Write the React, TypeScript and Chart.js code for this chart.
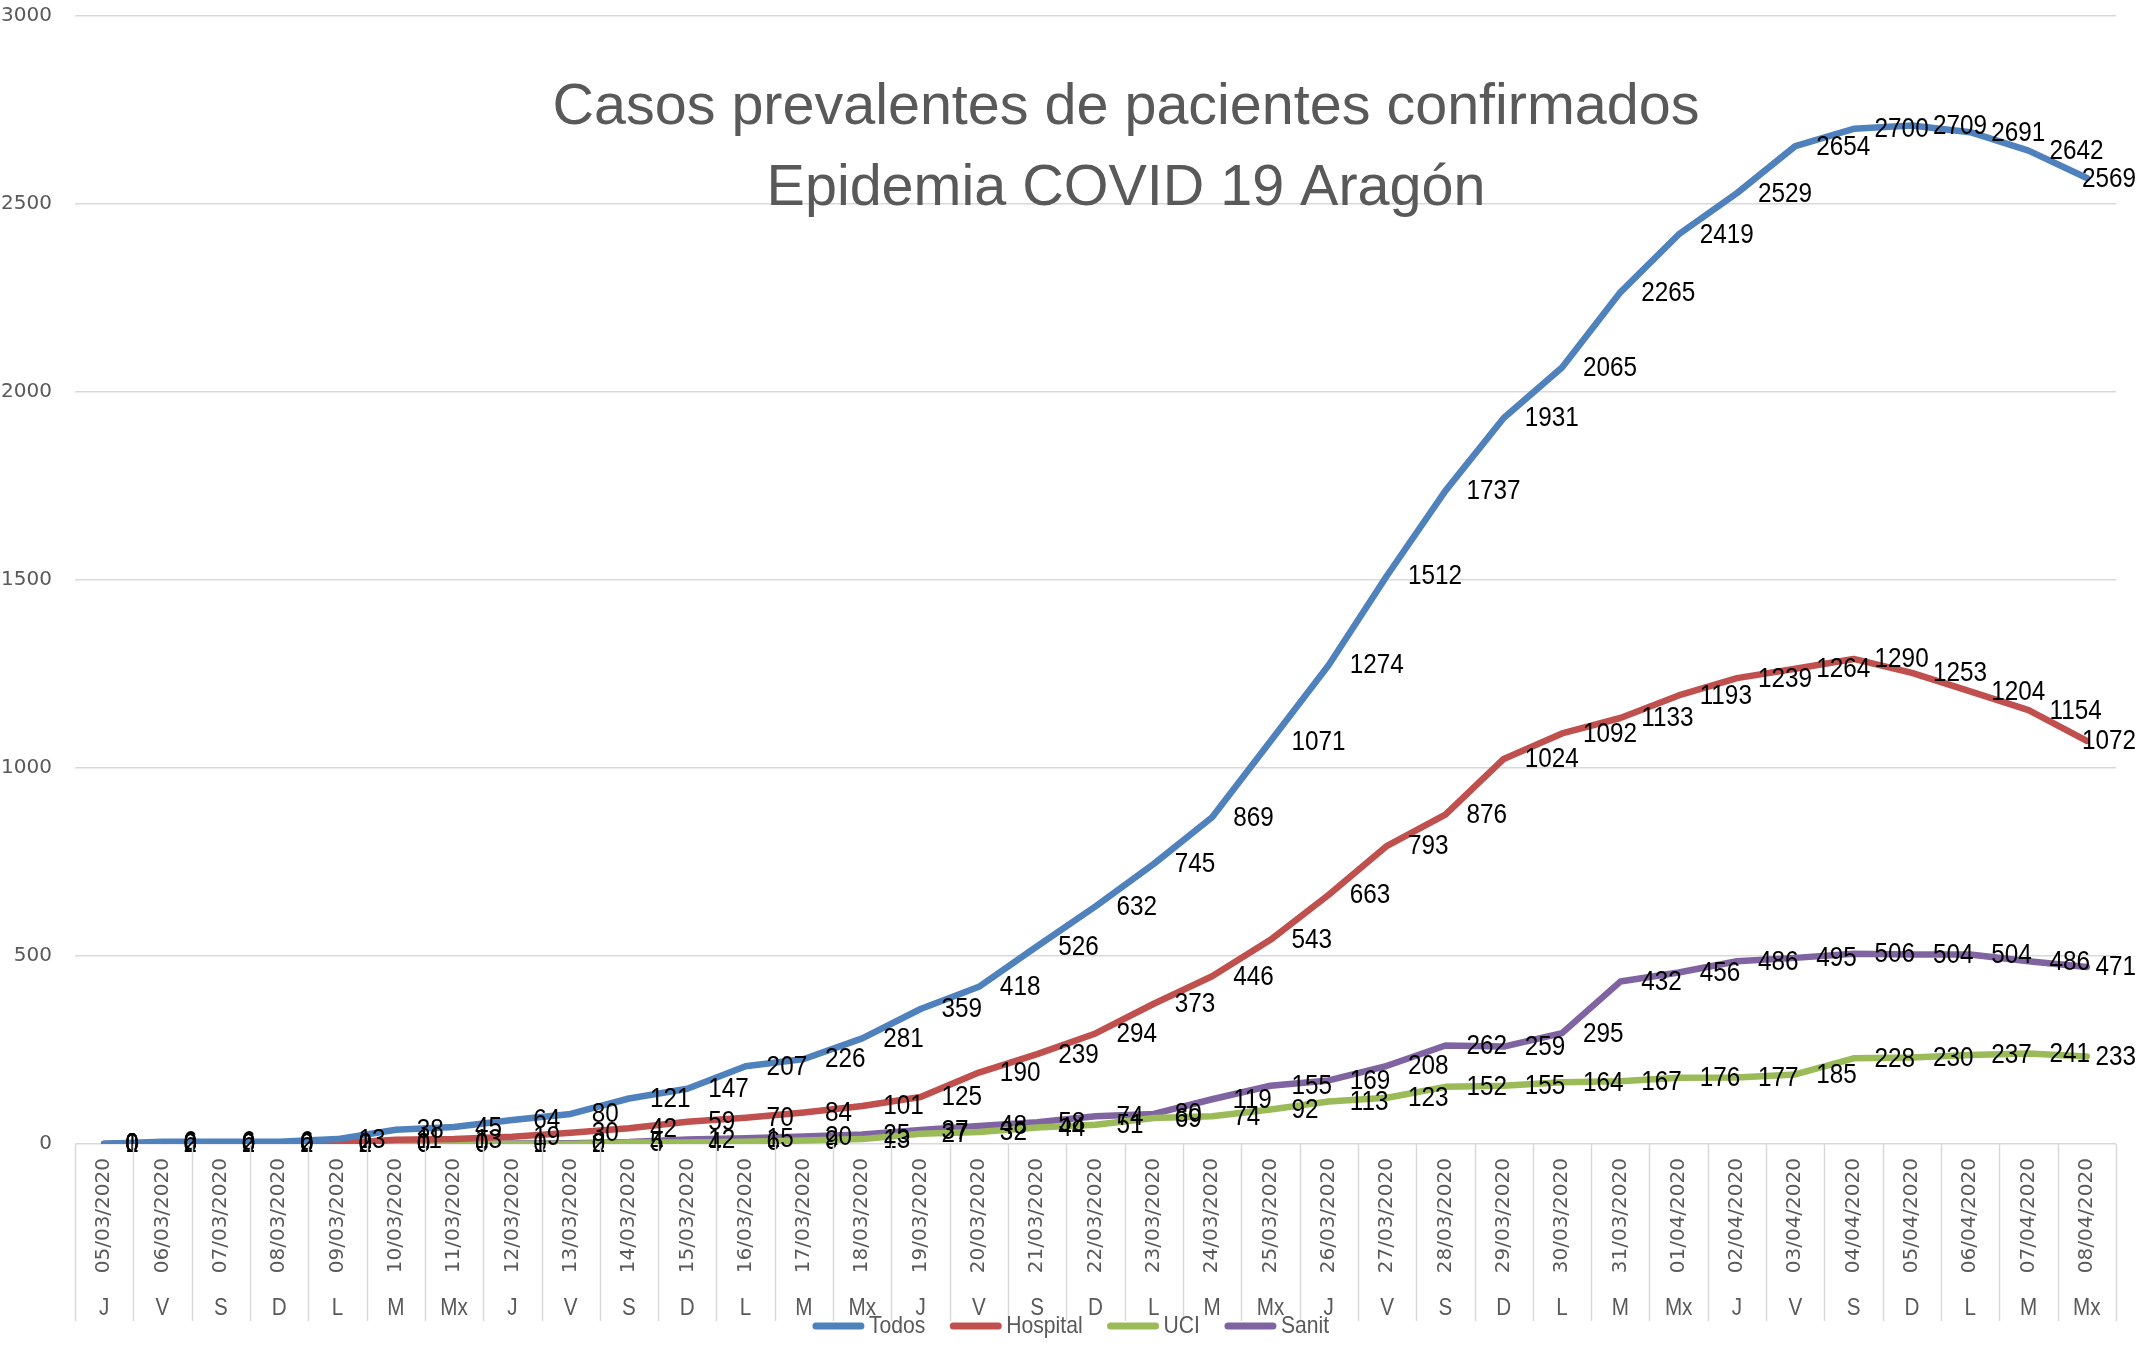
import React, { useEffect, useRef } from "react";
import { Chart, registerables } from "chart.js";

Chart.register(...registerables);

const fechas = [
  "05/03/2020", "06/03/2020", "07/03/2020", "08/03/2020", "09/03/2020", "10/03/2020", "11/03/2020",
  "12/03/2020", "13/03/2020", "14/03/2020", "15/03/2020", "16/03/2020", "17/03/2020", "18/03/2020",
  "19/03/2020", "20/03/2020", "21/03/2020", "22/03/2020", "23/03/2020", "24/03/2020", "25/03/2020",
  "26/03/2020", "27/03/2020", "28/03/2020", "29/03/2020", "30/03/2020", "31/03/2020", "01/04/2020",
  "02/04/2020", "03/04/2020", "04/04/2020", "05/04/2020", "06/04/2020", "07/04/2020", "08/04/2020",
];

const dias = [
  "J", "V", "S", "D", "L", "M", "Mx",
  "J", "V", "S", "D", "L", "M", "Mx",
  "J", "V", "S", "D", "L", "M", "Mx",
  "J", "V", "S", "D", "L", "M", "Mx",
  "J", "V", "S", "D", "L", "M", "Mx",
];

const todos = [
  1, 6, 6, 6, 13, 38, 45, 64, 80, 121, 147, 207, 226, 281, 359, 418, 526, 632, 745, 869, 1071,
  1274, 1512, 1737, 1931, 2065, 2265, 2419, 2529, 2654, 2700, 2709, 2691, 2642, 2569,
];
const hospital = [
  0, 2, 2, 2, 2, 11, 13, 19, 30, 42, 59, 70, 84, 101, 125, 190, 239, 294, 373, 446, 543,
  663, 793, 876, 1024, 1092, 1133, 1193, 1239, 1264, 1290, 1253, 1204, 1154, 1072,
];
const uci = [
  0, 0, 0, 0, 0, 0, 0, 0, 0, 4, 4, 6, 9, 13, 27, 32, 44, 51, 69, 74, 92,
  113, 123, 152, 155, 164, 167, 176, 177, 185, 228, 230, 237, 241, 233,
];
const sanit = [
  0, 0, 0, 0, 0, 0, 0, 1, 2, 5, 12, 15, 20, 25, 37, 48, 58, 74, 80, 119, 155,
  169, 208, 262, 259, 295, 432, 456, 486, 495, 506, 504, 504, 486, 471,
];

const seriesNames = ["Todos", "Hospital", "UCI", "Sanit"];
const seriesColors = ["#4F81BD", "#C0504D", "#9BBB59", "#8064A2"];
const seriesValues = [todos, hospital, uci, sanit];

const yMin = 0;
const yMax = 3000;
const yStep = 500;

const titleLines = ["Casos prevalentes de pacientes confirmados", "Epidemia COVID 19 Aragón"];

const W = 2141;
const H = 1361;
const GRAY = "#595959";
const GRID = "#D9D9D9";

function drawNarrow(
  ctx: CanvasRenderingContext2D,
  text: string,
  x: number,
  y: number,
  font: string,
  sx: number,
  align: "left" | "center" | "right"
) {
  ctx.save();
  ctx.font = font;
  const w = ctx.measureText(text).width * sx;
  const left = align === "left" ? x : align === "center" ? x - w / 2 : x - w;
  ctx.translate(left, y);
  ctx.scale(sx, 1);
  ctx.textAlign = "left";
  ctx.fillText(text, 0, 0);
  ctx.restore();
  return w;
}

function measureNarrow(ctx: CanvasRenderingContext2D, text: string, font: string, sx: number) {
  ctx.save();
  ctx.font = font;
  const w = ctx.measureText(text).width * sx;
  ctx.restore();
  return w;
}

const overlayPlugin = {
  id: "overlay",
  beforeDatasetsDraw(chart: any) {
    const ctx: CanvasRenderingContext2D = chart.ctx;
    const tFont = "57px 'Liberation Sans', Arial, sans-serif";
    ctx.save();
    ctx.font = tFont;
    const sx = 1147 / ctx.measureText(titleLines[0]).width;
    ctx.fillStyle = GRAY;
    ctx.textBaseline = "middle";
    drawNarrow(ctx, titleLines[0], 1126, 108, tFont, sx, "center");
    drawNarrow(ctx, titleLines[1], 1126, 189, tFont, sx, "center");
    ctx.restore();
  },
  afterDatasetsDraw(chart: any) {
    const ctx: CanvasRenderingContext2D = chart.ctx;
    const lFont = "27px 'Liberation Sans', Arial, sans-serif";
    const lsx = 0.9;
    ctx.save();
    ctx.fillStyle = "#000000";
    ctx.textBaseline = "middle";
    chart.data.datasets.forEach((ds: any, di: number) => {
      const meta = chart.getDatasetMeta(di);
      meta.data.forEach((pt: any, i: number) => {
        const txt = String(ds.data[i]);
        const w = measureNarrow(ctx, txt, lFont, lsx);
        let left = pt.x + 21;
        if (left + w > 2136) left = 2136 - w;
        drawNarrow(ctx, txt, left, pt.y + 1, lFont, lsx, "left");
      });
    });
    ctx.restore();
  },
  afterDraw(chart: any) {
    const ctx: CanvasRenderingContext2D = chart.ctx;
    const xs = chart.scales.x;
    const area = chart.chartArea;
    const n = fechas.length;
    const cw = (area.right - area.left) / n;
    const axisY = area.bottom;
    ctx.save();
    ctx.strokeStyle = GRID;
    ctx.lineWidth = 1.5;
    for (let k = 0; k <= n; k++) {
      const x = Math.round(area.left + k * cw) + 0.5;
      ctx.beginPath();
      ctx.moveTo(x, axisY);
      ctx.lineTo(x, 1321);
      ctx.stroke();
    }
    ctx.fillStyle = GRAY;
    ctx.font = "20px 'DejaVu Sans', Verdana, sans-serif";
    ctx.textBaseline = "middle";
    ctx.textAlign = "right";
    for (let i = 0; i < n; i++) {
      const cx = xs.getPixelForValue(i);
      ctx.save();
      ctx.translate(cx, 1158);
      ctx.rotate(-Math.PI / 2);
      ctx.fillText(fechas[i], 0, 0);
      ctx.restore();
    }
    const dFont = "24px 'Liberation Sans', Arial, sans-serif";
    ctx.textBaseline = "middle";
    for (let i = 0; i < n; i++) {
      const cx = xs.getPixelForValue(i);
      drawNarrow(ctx, dias[i], cx, 1308, dFont, 0.86, "center");
    }
    const gFont = "24px 'Liberation Sans', Arial, sans-serif";
    const gsx = 0.88;
    const sample = 51;
    const gap1 = 5;
    const gap2 = 25;
    const widths = seriesNames.map((s) => measureNarrow(ctx, s, gFont, gsx));
    let total = 0;
    widths.forEach((w, i) => {
      total += sample + gap1 + w + (i < widths.length - 1 ? gap2 : 0);
    });
    let x = 1071 - total / 2;
    const ly = 1326;
    seriesNames.forEach((s, i) => {
      ctx.strokeStyle = seriesColors[i];
      ctx.lineWidth = 7;
      ctx.lineCap = "round";
      ctx.beginPath();
      ctx.moveTo(x + 3, ly);
      ctx.lineTo(x + sample - 3, ly);
      ctx.stroke();
      x += sample + gap1;
      ctx.fillStyle = GRAY;
      drawNarrow(ctx, s, x, ly, gFont, gsx, "left");
      x += widths[i] + gap2;
    });
    ctx.restore();
  },
};

export default function App() {
  const ref = useRef<HTMLCanvasElement | null>(null);

  useEffect(() => {
    if (!ref.current) return;
    const chart = new Chart(ref.current, {
      type: "line",
      data: {
        labels: fechas,
        datasets: seriesNames.map((name, i) => ({
          label: name,
          data: seriesValues[i],
          borderColor: seriesColors[i],
          backgroundColor: seriesColors[i],
          borderWidth: 6.5,
          pointRadius: 0,
          pointHoverRadius: 0,
          tension: 0,
          fill: false,
          borderJoinStyle: "round" as const,
          borderCapStyle: "round" as const,
        })),
      },
      options: {
        responsive: false,
        animation: false,
        devicePixelRatio: 1,
        events: [],
        layout: { padding: { left: 0, right: 25, top: 16, bottom: 217 } },
        plugins: {
          legend: { display: false },
          title: { display: false },
          tooltip: { enabled: false },
        },
        scales: {
          x: {
            type: "category",
            display: false,
            offset: true,
          },
          y: {
            min: yMin,
            max: yMax,
            border: { display: false },
            grid: { color: GRID, lineWidth: 1.5, drawTicks: false },
            ticks: {
              stepSize: yStep,
              padding: 23,
              color: GRAY,
              font: { family: "'DejaVu Sans', Verdana, sans-serif", size: 20 },
              callback: (v: any) => String(v),
            },
            afterFit: (scale: any) => {
              scale.width = 75;
              scale.paddingTop = 0;
              scale.paddingBottom = 0;
            },
          },
        },
      },
      plugins: [overlayPlugin],
    });
    return () => chart.destroy();
  }, []);

  return (
    <div style={{ position: "fixed", left: 0, top: 0, width: W, height: H, background: "#ffffff" }}>
      <canvas ref={ref} width={W} height={H} style={{ width: W, height: H, display: "block" }} />
    </div>
  );
}
